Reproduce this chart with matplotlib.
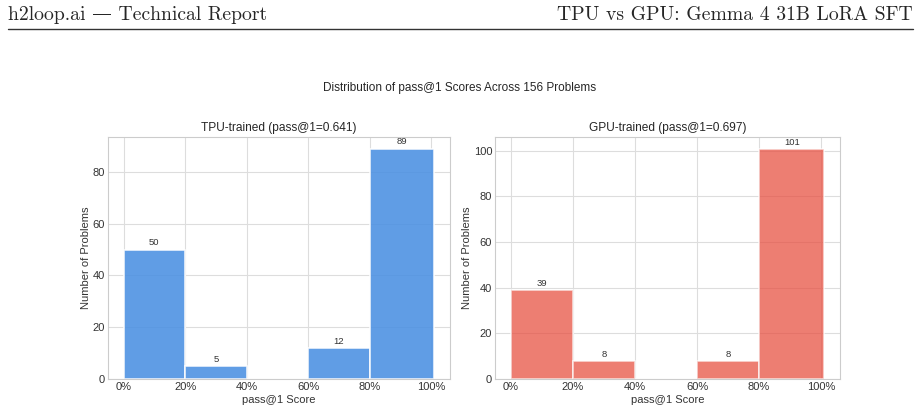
import matplotlib
matplotlib.use("Agg")
import matplotlib.pyplot as plt
import numpy as np

plt.style.use("seaborn-v0_8-whitegrid")
plt.rcParams['font.family'] = ['Liberation Sans', 'DejaVu Sans']

bin_edges = [0.0, 0.2, 0.4, 0.6, 0.8, 1.01]
tpu_counts = [50, 5, 0, 12, 89]
gpu_counts = [39, 8, 0, 8, 101]
tpu_title = "TPU-trained (pass@1=0.641)"
gpu_title = "GPU-trained (pass@1=0.697)"
suptitle = "Distribution of pass@1 Scores Across 156 Problems"
xticks = [0, 0.2, 0.4, 0.6, 0.8, 1.0]
xticklabels = ["0%", "20%", "40%", "60%", "80%", "100%"]
header_left = "h2loop.ai \u2014 Technical Report"
header_right = "TPU vs GPU: Gemma 4 31B LoRA SFT"

fig = plt.figure(figsize=(9.21, 4.12), dpi=100)

# header
serif = ['cmr10', 'DejaVu Serif']
fig.text(8/921, 1 - 15/412, header_left, ha='left', va='center', fontsize=14.2, family=serif)
fig.text(913/921, 1 - 15/412, header_right, ha='right', va='center', fontsize=14.2, family=serif)
fig.add_artist(plt.Line2D([8/921, 913/921], [1 - 28.5/412, 1 - 28.5/412], color='#333333', lw=1.0,
                          transform=fig.transFigure))

fig.text(460/921, 1 - 88/412, suptitle, ha='center', va='center', fontsize=8.5, color='#262626')

ax1 = fig.add_axes([108/921, 1 - 379/412, 342/921, 242/412])
ax2 = fig.add_axes([495/921, 1 - 379/412, 345/921, 242/412])

panels = [(ax1, tpu_counts, tpu_title, '#4a90e2', 0.88),
          (ax2, gpu_counts, gpu_title, '#e74c3c', 0.72)]
for ax, counts, title, color, alpha in panels:
    edges = np.array(bin_edges)
    widths = np.diff(edges)
    bars = ax.bar(edges[:-1], counts, width=widths, align='edge', color=color, alpha=alpha,
                  edgecolor='white', linewidth=1.2)
    for b, c in zip(bars, counts):
        if c > 0:
            ax.text(b.get_x() + b.get_width() / 2, c + 0.8, str(c), ha='center', va='bottom',
                    fontsize=6.8, color='#333333')
    ax.set_title(title, fontsize=8.6, color='#262626', pad=4)
    ax.set_xticks(xticks)
    ax.set_xticklabels(xticklabels)
    ax.set_xlabel("pass@1 Score", fontsize=8, color='#333333', labelpad=2)
    ax.set_ylabel("Number of Problems", fontsize=8, color='#333333', labelpad=1.5)
    ax.tick_params(labelsize=8, colors='#333333', pad=2)
    ax.grid(True, color='#dddddd', lw=0.8)
    ax.set_axisbelow(True)
    for s in ax.spines.values():
        s.set_visible(True)
        s.set_color('#cccccc')
        s.set_linewidth(0.8)

fig.savefig("out.png", dpi=100)
